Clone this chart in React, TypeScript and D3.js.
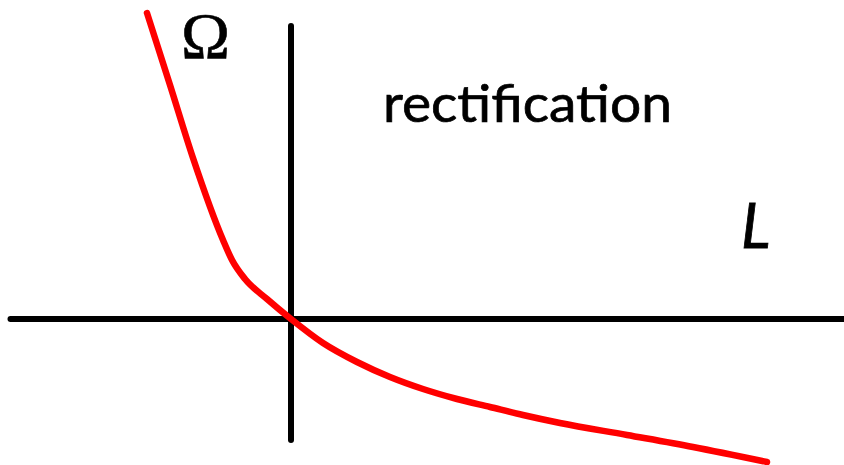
import React from "react";
import * as d3 from "d3";

const curveX = [-1.44, -1.21, -0.98, -0.68, -0.59, -0.46, -0.24, 0, 0.32, 0.66, 0.99, 1.32, 1.66, 1.99, 2.32, 2.69, 3.36, 4.02, 4.76];
const curveY = [3.06, 2.34, 1.61, 0.79, 0.59, 0.40, 0.20, 0, -0.24, -0.43, -0.58, -0.70, -0.80, -0.88, -0.96, -1.04, -1.16, -1.28, -1.43];
const axisX = [-2.805, 5.6];
const axisY = [-1.21, 2.93];
const labels = { omega: "Ω", region: "rectification", axis: "L" };

export default function App() {
  const W = 844, H = 465;
  const x = d3.scaleLinear().domain([0, 1]).range([291, 391]);
  const y = d3.scaleLinear().domain([0, 1]).range([319, 219]);
  const pts: [number, number][] = curveX.map((v, i) => [v, curveY[i]]);
  const line = d3.line<[number, number]>().x(d => x(d[0])).y(d => y(d[1])).curve(d3.curveMonotoneX);
  return (
    <svg width={W} height={H} style={{ position: "absolute", left: 0, top: 0 }}>
      <rect width={W} height={H} fill="#fff" />
      <line x1={x(axisX[0])} x2={x(axisX[1])} y1={y(0)} y2={y(0)} stroke="#000" strokeWidth={6} strokeLinecap="round" />
      <line x1={x(0)} x2={x(0)} y1={y(axisY[0])} y2={y(axisY[1])} stroke="#000" strokeWidth={6} strokeLinecap="round" />
      <path d={line(pts) || ""} fill="none" stroke="#ff0000" strokeWidth={6.5} strokeLinecap="round" strokeLinejoin="round" />
      <text x={181} y={58} fontFamily="Liberation Serif" fontSize={66} stroke="#000" strokeWidth={0.6}>{labels.omega}</text>
      <text x={383} y={122} fontFamily="Lato" fontSize={53} textLength={289} lengthAdjust="spacingAndGlyphs" stroke="#000" strokeWidth={0.7}>{labels.region}</text>
      <text x={741} y={248} fontFamily="Lato" fontStyle="italic" fontSize={62} stroke="#000" strokeWidth={0.8}>{labels.axis}</text>
    </svg>
  );
}
